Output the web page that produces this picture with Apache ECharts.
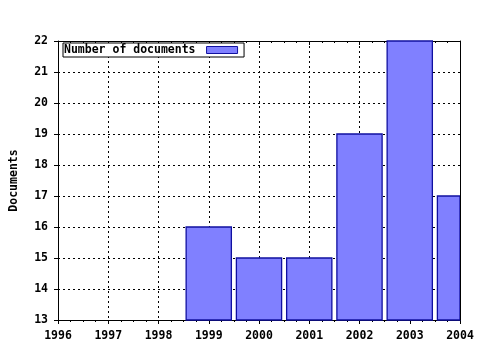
<!DOCTYPE html>
<html><head><meta charset="utf-8">
<script src="https://cdn.jsdelivr.net/npm/echarts@6/dist/echarts.min.js"></script>
<style>html,body{margin:0;padding:0;background:#fff}#c{width:480px;height:350px}</style>
</head><body><div id="c"></div>
<script>
const years = [1999, 2000, 2001, 2002, 2003, 2004];
const documents = [16, 15, 15, 19, 22, 17];
const seriesName = 'Number of documents';
const yTitle = 'Documents';

const font = {fontFamily: 'DejaVu Sans Mono', fontWeight: 'bold', fontSize: 11.5, color: '#000'};
const barFill = '#8080ff', barEdge = '#1010a0';
const chart = echarts.init(document.getElementById('c'), null, {renderer: 'canvas'});
chart.setOption({
  animation: false,
  backgroundColor: '#fff',
  grid: {left: 57, right: 20, top: 41, bottom: 30, containLabel: false},
  legend: {
    left: 63, top: 43, orient: 'horizontal', align: 'right',
    backgroundColor: '#fff',
    borderColor: '#000', borderWidth: 1, padding: [1, 6, 1, 1],
    itemWidth: 31, itemHeight: 7, itemGap: 4,
    textStyle: Object.assign({}, font, {padding: [0, 6, 0, 0]}),
    data: [{name: seriesName, icon: 'rect', itemStyle: {color: barFill, borderColor: barEdge, borderWidth: 1}}]
  },
  xAxis: [{
    type: 'value', min: 1996, max: 2004, interval: 1, position: 'bottom',
    axisLine: {show: true, lineStyle: {color: '#000', width: 1}},
    axisTick: {show: true, inside: false, length: 4, lineStyle: {color: '#000'}},
    minorTick: {show: true, splitNumber: 4, length: 2, lineStyle: {color: '#000'}},
    axisLabel: Object.assign({}, font, {margin: 10, formatter: v => String(v)}),
    splitLine: {show: true, lineStyle: {color: '#000', type: [2, 3], width: 1}}
  }, {
    type: 'value', min: 1996, max: 2004, interval: 1, position: 'top',
    axisLine: {show: true, lineStyle: {color: '#000', width: 1}},
    axisTick: {show: true, inside: true, length: 4, lineStyle: {color: '#000'}},
    minorTick: {show: true, splitNumber: 4, length: 2, lineStyle: {color: '#000'}},
    axisLabel: {show: false}, splitLine: {show: false}
  }],
  yAxis: [{
    type: 'value', min: 13, max: 22, interval: 1, position: 'left',
    name: yTitle, nameLocation: 'middle', nameGap: 38, nameRotate: 90,
    nameTextStyle: Object.assign({}, font),
    axisLine: {show: true, lineStyle: {color: '#000', width: 1}},
    axisTick: {show: true, inside: false, length: 4, lineStyle: {color: '#000'}},
    axisLabel: Object.assign({}, font, {margin: 10}),
    splitLine: {show: true, lineStyle: {color: '#000', type: [2, 3], width: 1}}
  }, {
    type: 'value', min: 13, max: 22, interval: 1, position: 'right', z: 10,
    axisLine: {show: true, lineStyle: {color: '#000', width: 1}},
    axisTick: {show: false}, axisLabel: {show: false}, splitLine: {show: false}
  }],
  series: [{
    name: seriesName, type: 'custom', xAxisIndex: 0, yAxisIndex: 0,
    itemStyle: {color: barFill, borderColor: barEdge},
    encode: {x: 0, y: 1},
    data: years.map((y, i) => [y, documents[i]]),
    renderItem: function (params, api) {
      const x = api.value(0), v = api.value(1);
      const top = api.coord([x, v]);
      const base = api.coord([x, 13]);
      const w = api.size([1, 0])[0] * 0.9;
      const rect = echarts.graphic.clipRectByRect(
        {x: top[0] - w / 2, y: top[1], width: w, height: base[1] - top[1]},
        {x: params.coordSys.x, y: params.coordSys.y, width: params.coordSys.width, height: params.coordSys.height}
      );
      if (!rect) return null;
      return {type: 'rect', shape: rect, style: {fill: barFill, stroke: barEdge, lineWidth: 1.3}};
    }
  }]
});
</script></body></html>
